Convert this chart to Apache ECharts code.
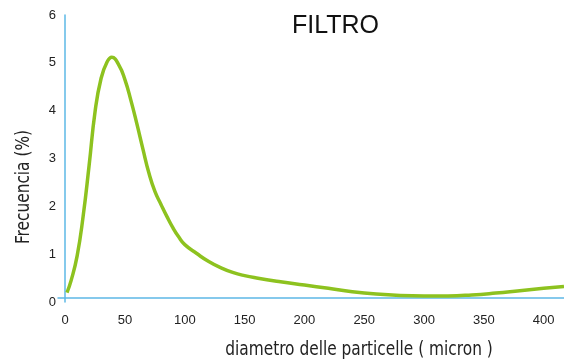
<!DOCTYPE html>
<html>
<head>
<meta charset="utf-8">
<script src="https://cdn.jsdelivr.net/npm/echarts@6/dist/echarts.min.js"></script>
<style>
html,body{margin:0;padding:0;background:#fff;}
#chart{width:564px;height:363px;}
</style>
</head>
<body>
<div id="chart"></div>
<script>
const titleText = 'FILTRO';
const xName = 'diametro delle particelle ( micron )';
const yName = 'Frecuencia (%)';
const diameters = [1.5, 5, 10, 15, 20, 25, 30, 35, 39, 45, 50, 55, 60, 65, 70, 75, 80, 85, 90, 95, 100, 110, 120, 130, 140, 150, 160, 180, 200, 220, 240, 260, 280, 300, 320, 340, 360, 380, 400, 417];
const frequency = [0.1, 0.36, 0.88, 1.72, 2.8, 3.95, 4.65, 5.0, 5.1, 4.93, 4.62, 4.18, 3.68, 3.15, 2.64, 2.25, 1.98, 1.72, 1.48, 1.28, 1.12, 0.93, 0.76, 0.63, 0.53, 0.46, 0.41, 0.33, 0.26, 0.19, 0.12, 0.07, 0.04, 0.03, 0.03, 0.05, 0.09, 0.14, 0.19, 0.23];
const xTicks = [0, 50, 100, 150, 200, 250, 300, 350, 400];
const yTicks = [0, 1, 2, 3, 4, 5, 6];

const points = diameters.map((d, i) => [d, frequency[i]]);
const axisColor = '#5DB8E6';
const lineColor = '#8DC21F';
const labelFont = '"Liberation Sans", Arial, sans-serif';
const condFont = '"Liberation Sans Narrow", "DejaVu Sans Condensed", "Liberation Sans", sans-serif';

const chart = echarts.init(document.getElementById('chart'), null, {renderer: 'canvas'});
chart.setOption({
  animation: false,
  backgroundColor: '#fff',
  title: {
    text: titleText, left: 287, top: 9,
    textStyle: {fontSize: 25, fontWeight: 'normal', color: '#111', fontFamily: labelFont}
  },
  grid: {left: 58, right: 0, top: 15, bottom: 61, containLabel: false},
  xAxis: {
    type: 'value', min: -6, max: 417,
    axisLine: {show: true, onZero: true, onZeroAxisIndex: 0, lineStyle: {color: axisColor, width: 1.5}},
    axisTick: {show: false},
    splitLine: {show: false},
    axisLabel: {customValues: xTicks, margin: 12, color: '#222', fontSize: 13, fontFamily: labelFont}
  },
  yAxis: [{
    type: 'value', min: -0.1, max: 6,
    axisLine: {show: true, onZero: true, lineStyle: {color: axisColor, width: 1.5}},
    axisTick: {show: false},
    splitLine: {show: false},
    axisLabel: {show: false}
  }, {
    type: 'value', min: 0, max: 6, interval: 1, position: 'left',
    axisLine: {show: false, onZero: false},
    axisTick: {show: false},
    splitLine: {show: false},
    axisLabel: {customValues: yTicks, margin: 2, color: '#222', fontSize: 13, fontFamily: labelFont}
  }],
  graphic: [{
    type: 'text', x: 24, y: 187, rotation: Math.PI / 2, scaleX: 0.9,
    style: {text: yName, align: 'center', verticalAlign: 'middle', fill: '#222', font: '19px ' + condFont}
  }, {
    type: 'text', x: 359, y: 350, scaleX: 0.9,
    style: {text: xName, align: 'center', verticalAlign: 'middle', fill: '#222', font: '19px ' + condFont}
  }],
  series: [{
    type: 'line', yAxisIndex: 0, data: points, smooth: 0.5, showSymbol: false,
    lineStyle: {color: lineColor, width: 3.5}
  }]
});
</script>
</body>
</html>
